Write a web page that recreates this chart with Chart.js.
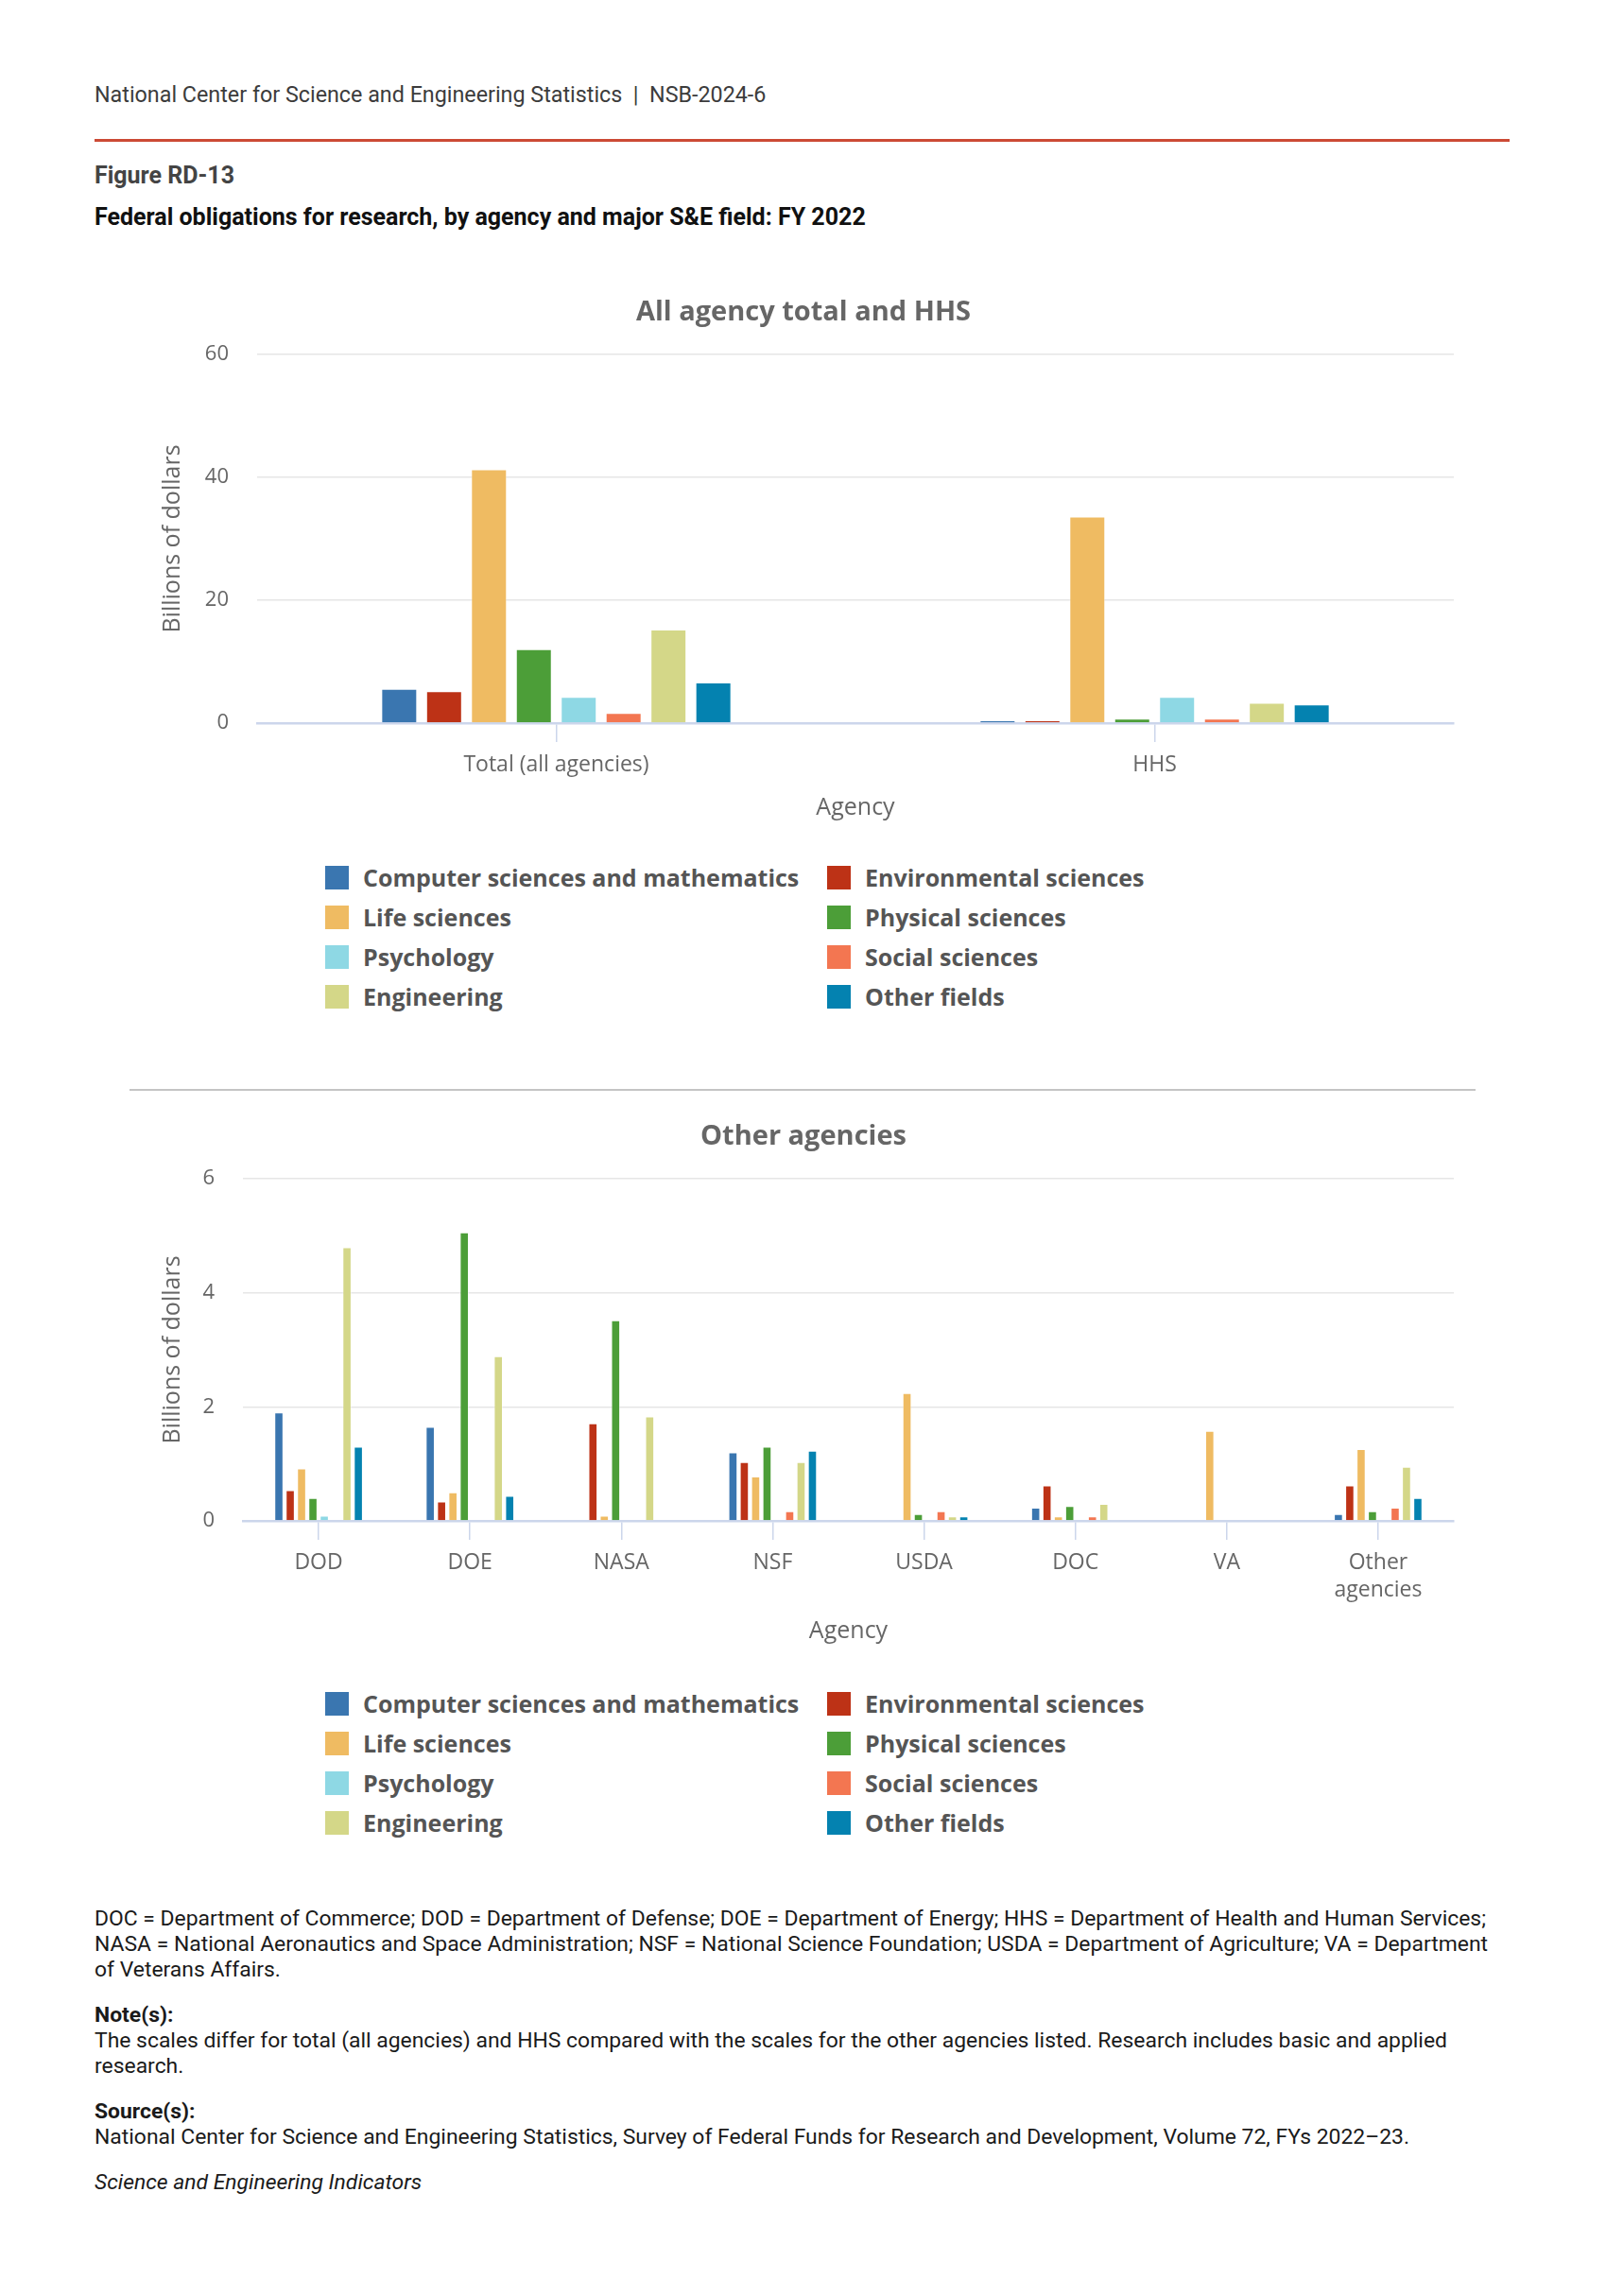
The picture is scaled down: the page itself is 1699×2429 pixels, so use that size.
<!DOCTYPE html>
<html>
<head>
<meta charset="utf-8">
<script src="https://cdn.jsdelivr.net/npm/chart.js@4.4.1/dist/chart.umd.min.js"></script>
<style>
  html, body { margin: 0; padding: 0; background: #ffffff; }
  body { width: 1699px; height: 2429px; position: relative; font-family: Roboto, "Liberation Sans", sans-serif; }
  .abs { position: absolute; white-space: nowrap; }
  #hdr { left: 100px; top: 88px; font-size: 23.3px; line-height: 24px; color: #3c3c3c; }
  #redline { left: 100px; top: 147px; width: 1497px; height: 3px; background: #cc4a35; }
  #fig { left: 100px; top: 172px; font-size: 25px; line-height: 28px; font-weight: 700; color: #444; }
  #ttl { left: 100px; top: 215px; font-size: 25px; line-height: 30px; font-weight: 700; color: #111; }
  #sep { left: 137px; top: 1152px; width: 1424px; height: 2px; background: #c4c4c4; }
  canvas { position: absolute; }
  .legend { position: absolute; font-family: "Open Sans", sans-serif; font-weight: 700; font-size: 25px; color: #555; }
  .legend .item { position: absolute; white-space: nowrap; height: 42px; line-height: 42px; }
  .legend .sw { position: absolute; width: 25px; height: 25px; top: 8.5px; left: 0; }
  .legend .lbl { position: absolute; left: 40px; top: 0; }
  #foot { position: absolute; left: 100px; top: 2016px; width: 1560px; font-size: 22.9px; line-height: 27px; color: #1a1a1a; }
  #foot p { margin: 0; }
  #foot .gap { height: 21px; }
</style>
</head>
<body>
<div id="hdr" class="abs">National Center for Science and Engineering Statistics&nbsp;&nbsp;|&nbsp;&nbsp;NSB-2024-6</div>
<div id="redline" class="abs"></div>
<div id="fig" class="abs">Figure RD-13</div>
<div id="ttl" class="abs">Federal obligations for research, by agency and major S&amp;E field: FY 2022</div>

<canvas id="c1" width="1400" height="583" style="left:150px; top:290px;"></canvas>
<div id="legend1" class="legend" style="left:344px; top:907px;"></div>

<div id="sep" class="abs"></div>

<canvas id="c2" width="1400" height="582" style="left:150px; top:1161px;"></canvas>
<div id="legend2" class="legend" style="left:344px; top:1781px;"></div>

<div id="foot">
  <p>DOC = Department of Commerce; DOD = Department of Defense; DOE = Department of Energy; HHS = Department of Health and Human Services;<br>NASA = National Aeronautics and Space Administration; NSF = National Science Foundation; USDA = Department of Agriculture; VA = Department<br>of Veterans Affairs.</p>
  <div class="gap"></div>
  <p><b>Note(s):</b></p>
  <p>The scales differ for total (all agencies) and HHS compared with the scales for the other agencies listed. Research includes basic and applied<br>research.</p>
  <div class="gap"></div>
  <p><b>Source(s):</b></p>
  <p>National Center for Science and Engineering Statistics, Survey of Federal Funds for Research and Development, Volume 72, FYs 2022–23.</p>
  <div class="gap"></div>
  <p><i>Science and Engineering Indicators</i></p>
</div>

<script>
// ---------- DATA ----------
const fieldNames = [
  'Computer sciences and mathematics',
  'Environmental sciences',
  'Life sciences',
  'Physical sciences',
  'Psychology',
  'Social sciences',
  'Engineering',
  'Other fields'
];

// Top chart: All agency total and HHS (billions of dollars)
const topCategories = ['Total (all agencies)', 'HHS'];
const topComputer      = [5.56, 0.45];
const topEnvironmental = [5.2, 0.45];
const topLife          = [41.3, 33.6];
const topPhysical      = [12.05, 0.75];
const topPsychology    = [4.26, 4.26];
const topSocial        = [1.65, 0.75];
const topEngineering   = [15.25, 3.3];
const topOther         = [6.6, 3.05];
const topTicks = [0, 20, 40, 60];

// Bottom chart: Other agencies (billions of dollars)
const bottomCategories = ['DOD', 'DOE', 'NASA', 'NSF', 'USDA', 'DOC', 'VA', ['Other', 'agencies']];
const botComputer      = [1.90, 1.65, 0, 1.20, 0.01, 0.23, 0, 0.12];
const botEnvironmental = [0.54, 0.34, 1.71, 1.03, 0, 0.62, 0, 0.62];
const botLife          = [0.92, 0.50, 0.09, 0.78, 2.24, 0.08, 1.58, 1.26];
const botPhysical      = [0.40, 5.06, 3.52, 1.30, 0.12, 0.26, 0, 0.17];
const botPsychology    = [0.09, 0, 0, 0, 0, 0, 0, 0];
const botSocial        = [0, 0, 0, 0.17, 0.17, 0.08, 0, 0.23];
const botEngineering   = [4.80, 2.89, 1.83, 1.03, 0.08, 0.30, 0, 0.95];
const botOther         = [1.30, 0.44, 0, 1.23, 0.08, 0.01, 0, 0.40];
const bottomTicks = [0, 2, 4, 6];

// ---------- STYLE ----------
const fieldColors = ['#3a76b0', '#bd3216', '#efbb62', '#4c9e38', '#8ed8e4', '#f37651', '#d4d788', '#0482b0'];

const topSeries = [topComputer, topEnvironmental, topLife, topPhysical, topPsychology, topSocial, topEngineering, topOther];
const botSeries = [botComputer, botEnvironmental, botLife, botPhysical, botPsychology, botSocial, botEngineering, botOther];

function makeDatasets(series) {
  return series.map((vals, i) => ({
    label: fieldNames[i],
    data: vals,
    backgroundColor: fieldColors[i],
    borderWidth: 1,
    borderColor: 'rgba(255,255,255,0.45)',
    borderSkipped: 'start',
    categoryPercentage: 0.6,
    barPercentage: 0.8
  }));
}

const yTickFont = { family: 'Open Sans', size: 22 };
const xTickFont = { family: 'Open Sans', size: 23, lineHeight: 1.27 };
const axisTitleFont = { family: 'Open Sans', size: 25 };
const grey = '#666666';

function makeChart(id, title, cats, series, ticks, yWidth, xHeight, titlePad, xTitlePadBottom) {
  const maxV = ticks[ticks.length - 1];
  const step = ticks[1] - ticks[0];
  return new Chart(document.getElementById(id), {
    type: 'bar',
    data: { labels: cats, datasets: makeDatasets(series) },
    options: {
      responsive: false,
      animation: false,
      devicePixelRatio: 1,
      layout: { padding: { right: 12, left: 12, top: 0, bottom: 0 } },
      plugins: {
        legend: { display: false },
        tooltip: { enabled: false },
        title: {
          display: true,
          text: title,
          color: grey,
          font: { family: 'Open Sans', size: 29, weight: 'bold' },
          padding: titlePad
        }
      },
      scales: {
        x: {
          afterFit: (s) => { s.height = xHeight; },
          grid: { display: true, drawOnChartArea: false, drawTicks: true, tickLength: 20, offset: false, color: '#ccd6eb', lineWidth: 1.5 },
          border: { display: true, color: '#ccd6eb', width: 2.5 },
          ticks: { color: grey, font: xTickFont, padding: 10, maxRotation: 0, autoSkip: false },
          title: { display: true, text: 'Agency', color: grey, font: axisTitleFont, padding: { top: 0, bottom: xTitlePadBottom } }
        },
        y: {
          min: 0,
          max: maxV,
          afterFit: (s) => { s.width = yWidth; },
          afterBuildTicks: (s) => { s.ticks = ticks.map(v => ({ value: v })); },
          grid: { color: '#e6e6e6', lineWidth: 1.5, drawTicks: false },
          border: { display: false },
          ticks: { color: grey, font: yTickFont, padding: 30, stepSize: step },
          title: { display: true, text: 'Billions of dollars', color: grey, font: axisTitleFont, padding: { top: 6, bottom: 0 } }
        }
      }
    }
  });
}

makeChart('c1', 'All agency total and HHS', topCategories, topSeries, topTicks, 110, 108, { top: 23, bottom: 27.2 }, 3);
makeChart('c2', 'Other agencies', bottomCategories, botSeries, bottomTicks, 95, 134, { top: 24.5, bottom: 26.7 }, 2);

// ---------- HTML legends (2 columns) ----------
function buildLegend(id) {
  const el = document.getElementById(id);
  const colX = [0, 531];
  fieldNames.forEach((name, i) => {
    const col = i % 2, row = Math.floor(i / 2);
    const item = document.createElement('div');
    item.className = 'item';
    item.style.left = colX[col] + 'px';
    item.style.top = (row * 42) + 'px';
    const sw = document.createElement('span');
    sw.className = 'sw';
    sw.style.background = fieldColors[i];
    const lbl = document.createElement('span');
    lbl.className = 'lbl';
    lbl.textContent = name;
    item.appendChild(sw);
    item.appendChild(lbl);
    el.appendChild(item);
  });
}
buildLegend('legend1');
buildLegend('legend2');
</script>
</body>
</html>
